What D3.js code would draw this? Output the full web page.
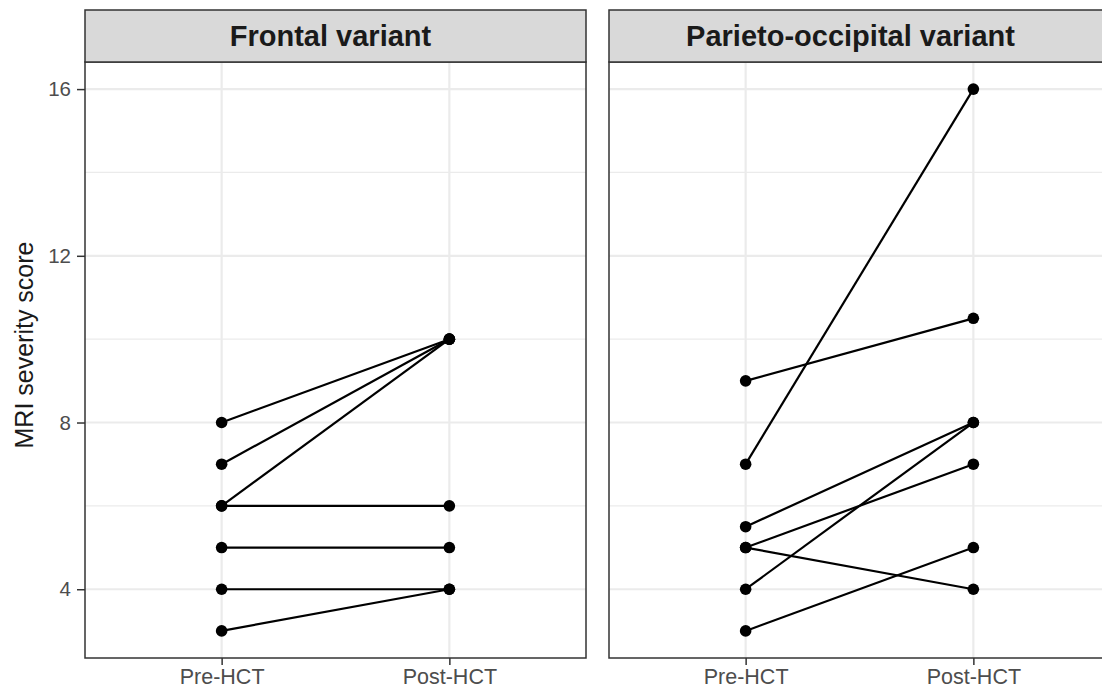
<!DOCTYPE html>
<html>
<head>
<meta charset="utf-8">
<script src="https://cdn.jsdelivr.net/npm/d3@7"></script>
<style>
  body { margin: 0; background: #fff; overflow: hidden; }
  svg { display: block; font-family: "Liberation Sans", Arial, sans-serif; }
</style>
</head>
<body>
<div id="chart"></div>
<script>
// Paired MRI severity scores before / after HCT, one panel per variant

const panels = ["Frontal variant", "Parieto-occipital variant"];
const timepoints = ["Pre-HCT", "Post-HCT"];

// one entry per patient: score before and after
const frontalPre  = [8, 7, 6, 6, 5, 4, 3];
const frontalPost = [10, 10, 10, 6, 5, 4, 4];
const parietoPre  = [9, 7, 5.5, 5, 5, 4, 3];
const parietoPost = [10.5, 16, 8, 7, 4, 8, 5];

const yTicks = [4, 8, 12, 16];
const yMinor = [6, 10, 14];

const pairs = [
  frontalPre.map((d, i) => [d, frontalPost[i]]),
  parietoPre.map((d, i) => [d, parietoPost[i]])
];

// Dimensions
const width = 1102, height = 692;
const panelTop = 62, panelBottom = 658;
const stripTop = 10;
const panelX = [85, 609], panelW = 501;

const gridColor = "#ebebeb", borderColor = "#333333", textColor = "#4d4d4d";

const allValues = frontalPre.concat(frontalPost, parietoPre, parietoPost);
const [lo, hi] = d3.extent(allValues);
const pad = (hi - lo) * 0.05;

const y = d3.scaleLinear()
    .domain([lo - pad, hi + pad])
    .range([panelBottom, panelTop]);

const svg = d3.select("#chart")
  .append("svg")
    .attr("width", width)
    .attr("height", height);

// y axis title
svg.append("text")
    .attr("transform", `translate(33,345) rotate(-90)`)
    .attr("text-anchor", "middle")
    .attr("font-size", "25px")
    .attr("fill", "#1a1a1a")
    .text("MRI severity score");

panels.forEach((name, p) => {
  const x0 = panelX[p];
  const visibleW = Math.min(panelW, width - x0);

  // discrete x scale with ggplot's 0.6 expansion
  const x = d3.scaleLinear()
      .domain([0.4, timepoints.length + 0.6])
      .range([x0, x0 + panelW]);

  const g = svg.append("g");

  // grid
  g.append("g")
    .selectAll("line")
    .data(yMinor)
    .join("line")
      .attr("x1", x0).attr("x2", x0 + panelW)
      .attr("y1", d => y(d)).attr("y2", d => y(d))
      .attr("stroke", gridColor).attr("stroke-width", 1.2);

  g.append("g")
    .selectAll("line")
    .data(yTicks)
    .join("line")
      .attr("x1", x0).attr("x2", x0 + panelW)
      .attr("y1", d => y(d)).attr("y2", d => y(d))
      .attr("stroke", gridColor).attr("stroke-width", 2.2);

  g.append("g")
    .selectAll("line")
    .data(timepoints)
    .join("line")
      .attr("x1", (d, i) => x(i + 1)).attr("x2", (d, i) => x(i + 1))
      .attr("y1", panelTop).attr("y2", panelBottom)
      .attr("stroke", gridColor).attr("stroke-width", 2.2);

  // segments
  g.append("g")
    .selectAll("line")
    .data(pairs[p])
    .join("line")
      .attr("x1", x(1)).attr("x2", x(2))
      .attr("y1", d => y(d[0])).attr("y2", d => y(d[1]))
      .attr("stroke", "#000").attr("stroke-width", 2.2);

  // points
  g.append("g")
    .selectAll("circle")
    .data(pairs[p].flatMap(d => [[1, d[0]], [2, d[1]]]))
    .join("circle")
      .attr("cx", d => x(d[0]))
      .attr("cy", d => y(d[1]))
      .attr("r", 5.8)
      .attr("fill", "#000");

  // panel border
  g.append("rect")
      .attr("x", x0).attr("y", panelTop)
      .attr("width", panelW).attr("height", panelBottom - panelTop)
      .attr("fill", "none")
      .attr("stroke", borderColor).attr("stroke-width", 1.5);

  // strip
  g.append("rect")
      .attr("x", x0).attr("y", stripTop)
      .attr("width", panelW).attr("height", panelTop - stripTop)
      .attr("fill", "#d9d9d9")
      .attr("stroke", borderColor).attr("stroke-width", 1.5);

  g.append("text")
      .attr("x", x0 + visibleW / 2 - 5)
      .attr("y", (stripTop + panelTop) / 2 + 10)
      .attr("text-anchor", "middle")
      .attr("font-size", "29px")
      .attr("font-weight", "bold")
      .attr("fill", "#1a1a1a")
      .text(name);

  // x axis
  g.append("g")
    .attr("transform", `translate(0,${panelBottom})`)
    .call(d3.axisBottom(x)
        .tickValues(d3.range(1, timepoints.length + 1))
        .tickFormat(d => timepoints[d - 1])
        .tickSize(7).tickPadding(4))
    .call(a => a.select(".domain").remove())
    .call(a => a.selectAll(".tick line").attr("stroke", borderColor).attr("stroke-width", 1.5))
    .call(a => a.selectAll(".tick text")
        .attr("font-size", "21.5px")
        .attr("font-family", "Liberation Sans, Arial, sans-serif")
        .attr("fill", textColor));

  // y axis only on first panel
  if (p === 0) {
    g.append("g")
      .attr("transform", `translate(${x0},0)`)
      .call(d3.axisLeft(y).tickValues(yTicks).tickSize(8).tickPadding(6))
      .call(a => a.select(".domain").remove())
      .call(a => a.selectAll(".tick line").attr("stroke", borderColor).attr("stroke-width", 1.5))
      .call(a => a.selectAll(".tick text")
          .attr("font-size", "20.5px")
          .attr("font-family", "Liberation Sans, Arial, sans-serif")
          .attr("fill", textColor));
  }
});
</script>
</body>
</html>
